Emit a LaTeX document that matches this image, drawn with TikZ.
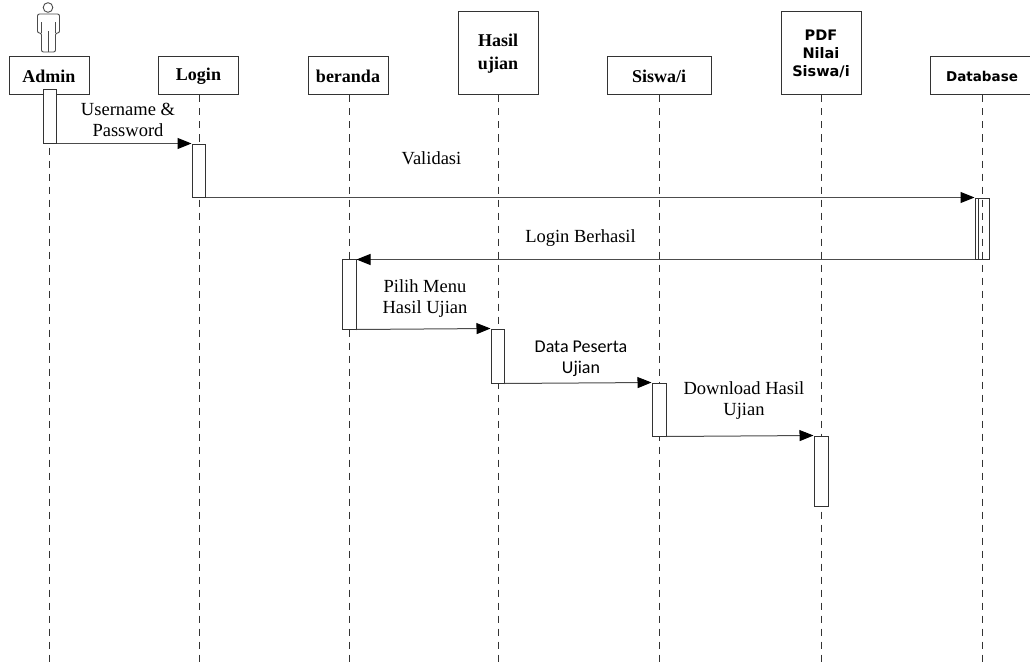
\documentclass[tikz,border=0pt]{standalone}
\usepackage{fontspec}
\setmainfont{Liberation Serif}
\newfontfamily\hdsans{DejaVu Sans}
\newfontfamily\carl{Carlito}
\usetikzlibrary{arrows.meta}
\begin{document}
\begin{tikzpicture}[x=1pt,y=-1pt,
  hdr/.style={draw=black!80,line width=1pt,fill=white,minimum width=80pt,minimum height=38pt,inner sep=0pt,align=center,font=\fontsize{18}{22.5}\selectfont\bfseries},
  hdrsans/.style={hdr,font=\hdsans\fontsize{14.5}{18}\selectfont\bfseries},
  act/.style={draw=black!80,line width=1pt,fill=white,minimum width=13pt,inner sep=0pt},
  life/.style={draw=black!80,line width=0.9pt,dash pattern=on 7pt off 6pt},
  msg/.style={draw=black!70,line width=1pt,-{Triangle[length=14pt,width=11pt,color=black,fill=black]}},
  lbl/.style={align=center,inner sep=0pt,font=\fontsize{18.5}{21}\selectfont},
  lblsans/.style={lbl,font=\carl\fontsize{18}{21}\selectfont}]
\useasboundingbox[fill=white] (0,0) rectangle (1030,666);

% headers
\node[hdr] (admin) at (49,76) {Admin};
\node[hdr] (login) at (198.5,76) {Login};
\node[hdr] (beranda) at (348,76) {beranda};
\node[hdr,minimum height=83pt] (hasil) at (498,53.5) {Hasil\\ujian};
\node[hdr,minimum width=104pt] (siswa) at (659,76) {Siswa/i};
\node[hdrsans,minimum height=83pt] (pdf) at (821,53.5) {PDF\\Nilai\\Siswa/i};
\node[hdrsans,minimum width=100pt,font=\hdsans\fontsize{13.5}{18}\selectfont\bfseries] (db) at (980,76) {\hspace*{4pt}Database};

% actor
\draw[draw=black!70,line width=0.9pt] (48,7.5) circle (4.8);
\draw[draw=black!70,line width=0.9pt,rounded corners=2pt]
  (41.5,52) -- (41.5,33) -- (37.5,33) -- (37.5,14) -- (59.5,14) -- (59.5,33) -- (55.5,33) -- (55.5,52) -- cycle;
\draw[draw=black!70,line width=0.9pt] (41.5,33) -- (41.5,22) (55.5,33) -- (55.5,22) (48.5,52) -- (48.5,31);

% lifelines
\coordinate (eadmin) at (49,666);
\coordinate (elogin) at (199,666);
\coordinate (eberanda) at (349,666);
\coordinate (ehasil) at (498,666);
\coordinate (esiswa) at (659,666);
\coordinate (epdf) at (821,666);
\coordinate (edb) at (982,666);
\draw[life] (admin.south -| eadmin) -- (eadmin);
\draw[life] (login.south -| elogin) -- (elogin);
\draw[life] (beranda.south -| eberanda) -- (eberanda);
\draw[life] (hasil.south -| ehasil) -- (ehasil);
\draw[life] (siswa.south -| esiswa) -- (esiswa);
\draw[life] (pdf.south -| epdf) -- (epdf);
\draw[life] (db.south -| edb) -- (edb);

% activations
\node[act,minimum height=53pt] (aadmin) at (49.5,116.5) {};
\node[act,minimum height=53pt] (alogin) at (198.5,170.5) {};
\node[act,fill=none,minimum width=14pt,minimum height=61pt] (adb) at (982,228.5) {};
\draw[draw=black!80,line width=0.8pt] (978,198) -- (978,259);
\node[act,minimum width=14pt,minimum height=70pt] (aberanda) at (349,294) {};
\node[act,minimum height=54pt] (ahasil) at (497.5,356) {};
\node[act,minimum width=14pt,minimum height=53pt] (asiswa) at (659,409.5) {};
\node[act,minimum width=14pt,minimum height=70pt] (apdf) at (821,471) {};

% messages
\draw[msg] (aadmin.south east) -- (alogin.west |- aadmin.south east);
\draw[msg] (alogin.south east) -- (adb.west |- alogin.south east);
\draw[msg] (adb.south west) -- (aberanda.east |- adb.south west);
\draw[msg] (aberanda.south east) -- (ahasil.north west);
\draw[msg] (ahasil.south east) -- (asiswa.north west);
\draw[msg] (asiswa.south east) -- (apdf.north west);

% labels
\node[lbl] (l1) at (128,119.5) {Username \&\\Password};
\node[lbl] (l2) at (431.5,158) {Validasi};
\node[lbl] (l3) at (580.5,238.5) {Login Berhasil};
\node[lbl] (l4) at (425,298.5) {Pilih Menu\\Hasil Ujian};
\node[lblsans] (l5) at (581,359) {Data Peserta\\Ujian};
\node[lbl] (l6) at (744,401) {Download Hasil\\Ujian};
\end{tikzpicture}
\end{document}
